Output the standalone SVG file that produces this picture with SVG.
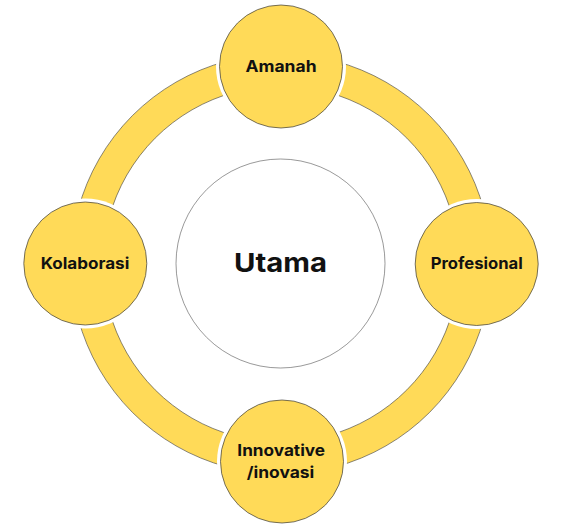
<svg xmlns="http://www.w3.org/2000/svg" width="561" height="531" viewBox="0 0 561 531">
<style>
.ring{fill:#FFDA58;stroke:#3a3a3a;stroke-width:0.6;fill-rule:evenodd}
.gap{fill:#FFFFFF}
.node{fill:#FFDA58;stroke:#3a3a3a;stroke-width:0.7}
.center{fill:#FFFFFF;stroke:#333333;stroke-width:0.5}
.lbl{font-family:Inter,"Open Sans","Liberation Sans",sans-serif;font-weight:700;font-size:16px;fill:#111111;text-anchor:middle}
.big{font-family:Inter,"Open Sans","Liberation Sans",sans-serif;font-weight:700;font-size:26px;fill:#111111;text-anchor:middle}
</style>
<rect width="561" height="531" fill="#FFFFFF"/>
<g id="connectors">
<path class="ring" d="M281,54 A210,210 0 1,1 280.99,54 Z M281,86 A178,178 0 1,0 281.01,86 Z"/>
</g>
<g id="center">
<circle class="center" cx="280.5" cy="263.5" r="104.5"/>
<text class="big" x="280.5" y="272" textLength="93" lengthAdjust="spacingAndGlyphs">Utama</text>
</g>
<g id="amanah">
<circle class="gap" cx="281" cy="66.5" r="65"/>
<circle class="node" cx="281" cy="66.5" r="61.5"/>
<text class="lbl" x="281" y="72.3" textLength="71" lengthAdjust="spacingAndGlyphs">Amanah</text>
</g>
<g id="profesional">
<circle class="gap" cx="476.7" cy="264" r="65"/>
<circle class="node" cx="476.7" cy="264" r="61.5"/>
<text class="lbl" x="476.7" y="269.3" textLength="92" lengthAdjust="spacingAndGlyphs">Profesional</text>
</g>
<g id="innovative">
<circle class="gap" cx="282" cy="461.5" r="65"/>
<circle class="node" cx="282" cy="461.5" r="61.5"/>
<text class="lbl" x="281.2" y="456.3" textLength="87.7" lengthAdjust="spacingAndGlyphs">Innovative</text>
<text class="lbl" x="280.5" y="477.7" textLength="67.6" lengthAdjust="spacingAndGlyphs">/inovasi</text>
</g>
<g id="kolaborasi">
<circle class="gap" cx="85.3" cy="263.5" r="65"/>
<circle class="node" cx="85.3" cy="263.5" r="61.5"/>
<text class="lbl" x="85" y="269" textLength="88.6" lengthAdjust="spacingAndGlyphs">Kolaborasi</text>
</g>
</svg>
